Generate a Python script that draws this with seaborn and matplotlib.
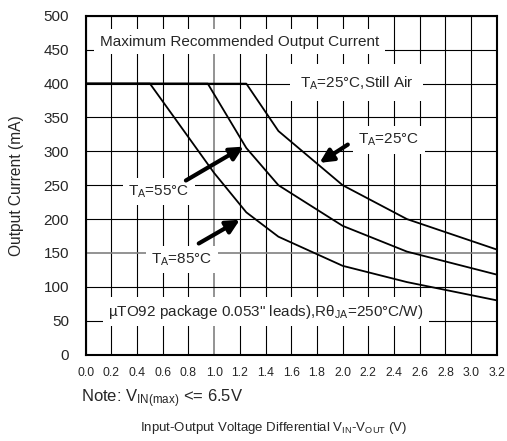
import pandas as pd
import seaborn as sns
import matplotlib.pyplot as plt

# derating curves
v_25 = [0.0, 1.25, 1.5, 2.0, 2.5, 3.2]
i_25 = [400, 400, 330, 250, 200, 155]
v_55 = [0.0, 0.95, 1.25, 1.5, 2.0, 2.5, 3.2]
i_55 = [400, 400, 305, 250, 190, 152, 118]
v_85 = [0.0, 0.5, 1.0, 1.25, 1.5, 2.0, 2.5, 3.2]
i_85 = [400, 400, 268, 210, 174, 131, 107, 80]

x_ticks = [round(0.2 * k, 1) for k in range(17)]
y_ticks = list(range(0, 501, 50))

rows = []
for name, vs, cs in [("25", v_25, i_25), ("55", v_55, i_55), ("85", v_85, i_85)]:
    for v, c in zip(vs, cs):
        rows.append({"v": v, "i": c, "ta": name})
df = pd.DataFrame(rows)

sns.set_style("white")
plt.rcParams['font.family'] = ['Liberation Sans', 'DejaVu Sans']
plt.rcParams['mathtext.default'] = 'regular'

fig = plt.figure(figsize=(5.07, 4.41), dpi=100)
ax = fig.add_axes([0.169, 0.196, 0.811, 0.768])

ax.set_xlim(0, 3.2)
ax.set_ylim(0, 500)
ax.set_xticks(x_ticks)
ax.set_xticklabels(["%.1f" % t for t in x_ticks], fontsize=8.8)
ax.set_yticks(y_ticks)
ax.set_yticklabels([str(t) for t in y_ticks], fontsize=11)
ax.tick_params(axis="y", length=0, pad=12)
ax.tick_params(axis="x", length=0, pad=9)
ax.grid(True, color="black", lw=0.8)
ax.set_axisbelow(True)
for ln, t in zip(ax.get_xgridlines(), x_ticks):
    if t == 1.0:
        ln.set_color("#808080")
        ln.set_lw(1.2)
for ln, t in zip(ax.get_ygridlines(), y_ticks):
    if t == 150:
        ln.set_color("#808080")
        ln.set_lw(1.2)
for s in ax.spines.values():
    s.set_color("black")
    s.set_linewidth(1.5)

sns.lineplot(data=df, x="v", y="i", hue="ta", palette=["black"] * 3,
             lw=1.3, legend=False, ax=ax, zorder=4, estimator=None, sort=False)
ax.set_xlabel(None)
ax.set_ylabel(None)
fig.text(0.032, 0.58, "Output Current (mA)", fontsize=11.2, rotation=90,
         va="center", ha="center")

box = dict(facecolor="white", edgecolor="none", pad=4)
ax.text(0.11, 462, "Maximum Recommended Output Current", fontsize=11,
        va="center", bbox=box, zorder=3)
ax.text(1.67, 401, "T$_A$=25°C,Still Air", fontsize=11,
        va="center", bbox=dict(facecolor="white", edgecolor="none", pad=7), zorder=3)
ax.text(2.12, 317, "T$_A$=25°C", fontsize=11, va="center", bbox=box, zorder=3)
ax.text(0.33, 241, "T$_A$=55°C", fontsize=11, va="center", bbox=box, zorder=3)
ax.text(0.51, 140, "T$_A$=85°C", fontsize=11, va="center", bbox=box, zorder=3)
ax.text(0.175, 63, "µTO92 package 0.053\" leads),Rθ$_{JA}$=250°C/W)",
        fontsize=11, va="center", bbox=box, zorder=3)

arrow = dict(arrowstyle="-|>,head_length=0.8,head_width=0.4", color="black",
             lw=3, shrinkA=0, shrinkB=0)
ax.annotate("", xy=(1.23, 307), xytext=(0.78, 257), arrowprops=arrow, zorder=5)
ax.annotate("", xy=(1.2, 199), xytext=(0.88, 164), arrowprops=arrow, zorder=5)
ax.annotate("", xy=(1.82, 283), xytext=(2.04, 310), arrowprops=arrow, zorder=5)

fig.text(0.16, 0.095, "Note: V$_{IN(max)}$ <= 6.5V", fontsize=12, va="center")
fig.text(0.54, 0.029, "Input-Output Voltage Differential V$_{IN}$-V$_{OUT}$ (V)",
         fontsize=9.5, va="center", ha="center")

fig.savefig("out.png", dpi=100)
